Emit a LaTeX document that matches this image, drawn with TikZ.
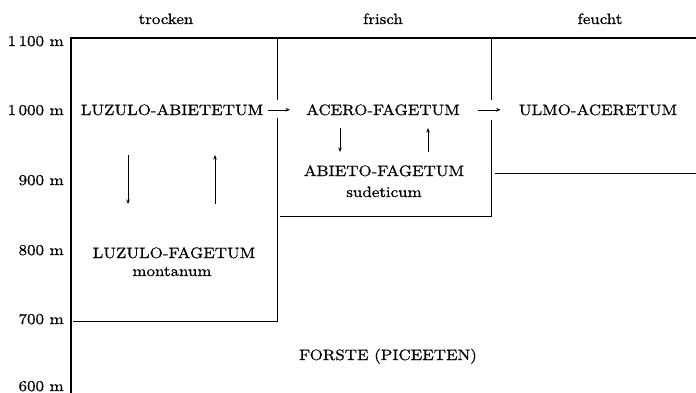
\documentclass[tikz,border=0pt]{standalone}
\usepackage{fontspec}
\setmainfont{lmroman10-regular.otf}[FakeStretch=1.13,FakeBold=0.8]
\usepackage{tikz}
\usetikzlibrary{arrows.meta}

\begin{document}
\begin{tikzpicture}[x=1pt,y=-1pt,
    every node/.style={font=\fontsize{15}{18}\selectfont,inner sep=0pt,anchor=base},
    height/.style={anchor=base east},
    axis/.style={line width=2.8pt,line join=miter},
    rim/.style={line width=0.7pt},
    succ/.style={-{Stealth[length=4.5pt,width=3.5pt]},line width=0.6pt}]
  \useasboundingbox (0,0) rectangle (696,392);

  % moisture columns
  \node (trocken) at (166,24) {trocken};
  \node (frisch)  at (383,24) {frisch};
  \node (feucht)  at (600,24) {feucht};

  % altitude scale
  \node[height] (h-1100) at (64,46)  {1\,100 m};
  \node[height] (h-1000) at (64,115) {1\,000 m};
  \node[height] (h-900)  at (64,185) {900 m};
  \node[height] (h-800)  at (64,255) {800 m};
  \node[height] (h-700)  at (64,324) {700 m};
  \node[height] (h-600)  at (64,391) {600 m};

  \coordinate (ax-bot) at (71,394);
  \coordinate (ax-top) at (71,38);
  \coordinate (ax-end) at (697,38);
  \draw[axis] (ax-bot) -- (ax-top) -- (ax-end);

  % communities
  \node (luab)     at (172,115) {LUZULO-ABIETETUM};
  \node (acfa)     at (383,115) {ACERO-FAGETUM};
  \node (ulac)     at (598,115) {ULMO-ACERETUM};
  \node (abfa)     at (384,176) {ABIETO-FAGETUM};
  \node (abfa-sub) at (384,197) {sudeticum};
  \node (lufa)     at (174,258) {LUZULO-FAGETUM};
  \node (lufa-sub) at (172,276) {montanum};
  \node (forste)   at (388,360) {FORSTE (PICEETEN)};

  % borders of the belts
  \coordinate (b1-top) at (277,39);
  \coordinate (b1-hi)  at (277,100);
  \coordinate (b1-lo)  at (277,118);
  \coordinate (b1-bot) at (277,321);
  \coordinate (b1-end) at (73,321);
  \coordinate (b2-top) at (491,39);
  \coordinate (b2-hi)  at (491,100);
  \coordinate (b2-lo)  at (491,120);
  \coordinate (b2-bot) at (491,216);
  \coordinate (b2-end) at (280,216);
  \coordinate (b3-beg) at (495,173);
  \coordinate (b3-end) at (696,173);

  \draw[rim] (b1-top) -- (b1-hi);
  \draw[rim] (b1-lo) -- (b1-bot) -- (b1-end);
  \draw[rim] (b2-top) -- (b2-hi);
  \draw[rim] (b2-lo) -- (b2-bot) -- (b2-end);
  \draw[rim] (b3-beg) -- (b3-end);

  % succession
  \draw[succ,shorten <=5pt,shorten >=16pt] (luab.east) -- (acfa.west);
  \draw[succ,shorten <=18pt,shorten >=18pt] (acfa.east) -- (ulac.west);

  \coordinate (d1-a) at (128,155);
  \coordinate (d1-b) at (128,204);
  \coordinate (u1-a) at (215,204);
  \coordinate (u1-b) at (215,155);
  \coordinate (d2-a) at (340,128);
  \coordinate (d2-b) at (340,152);
  \coordinate (u2-a) at (428,152);
  \coordinate (u2-b) at (428,128);

  \draw[succ] (d1-a) -- (d1-b);
  \draw[succ] (u1-a) -- (u1-b);
  \draw[succ] (d2-a) -- (d2-b);
  \draw[succ] (u2-a) -- (u2-b);
\end{tikzpicture}
\end{document}
